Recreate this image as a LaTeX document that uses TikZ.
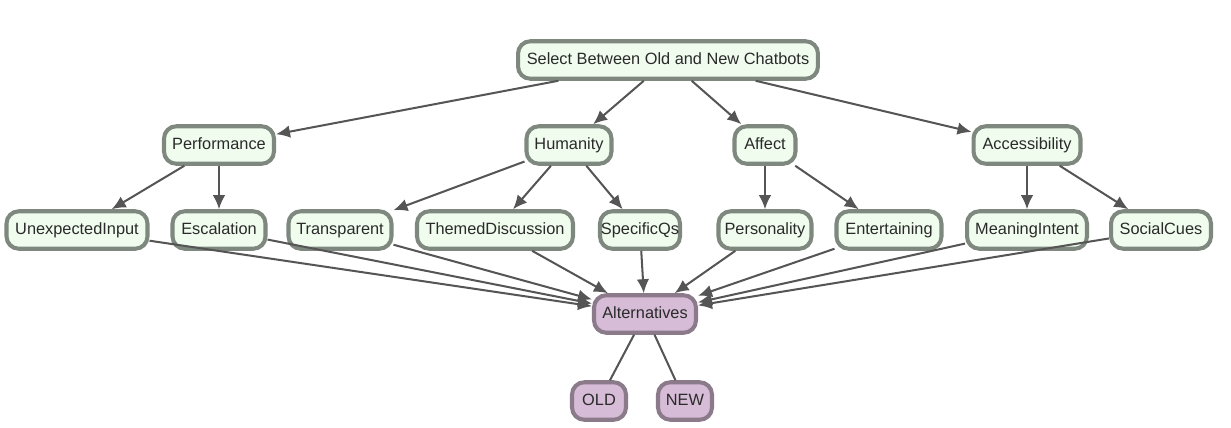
\documentclass[tikz,border=0pt]{standalone}
\usepackage{xcolor}
\usepackage{fontspec}
\setmainfont{Liberation Sans}
\usetikzlibrary{arrows.meta,positioning}
\definecolor{critfill}{HTML}{F0FCEE}
\definecolor{critedge}{HTML}{7E887E}
\definecolor{altfill}{HTML}{D6BCD6}
\definecolor{altedge}{HTML}{8A7A8A}
\definecolor{linkcol}{HTML}{555555}
\definecolor{textcol}{HTML}{2A2A2A}

\begin{document}
\begin{tikzpicture}[x=0.02cm,y=-0.02cm,
  crit/.style={draw=critedge,line width=2.3pt,rounded corners=7pt,fill=critfill,minimum height=0.75cm,inner xsep=0pt,text height=7pt,text depth=2pt,text=textcol,font=\fontsize{9.3}{11}\selectfont},
  alt/.style={crit,draw=altedge,fill=altfill},
  link/.style={draw=linkcol,line width=1.15pt,-{Latex[length=2.8mm,width=2.5mm]}},
  plain/.style={draw=linkcol,line width=1.15pt}]
  \useasboundingbox (0,0) rectangle (1231,427);
  % goal
  \node[crit,minimum width=6.0cm] (goal) at (668,60) {Select Between Old and New Chatbots};
  % criteria
  \node[crit,minimum width=2.2cm]  (perf)  at (219,145)  {Performance};
  \node[crit,minimum width=1.7cm]  (hum)   at (569,145)  {Humanity};
  \node[crit,minimum width=1.22cm] (aff)   at (765,145)  {Affect};
  \node[crit,minimum width=2.14cm] (acc)   at (1027,145) {Accessibility};
  % sub-criteria
  \node[crit,minimum width=2.82cm] (unexp) at (77,230)   {UnexpectedInput};
  \node[crit,minimum width=1.86cm] (esc)   at (219,230)  {Escalation};
  \node[crit,minimum width=2.06cm] (trans) at (340,230)  {Transparent};
  \node[crit,minimum width=3.12cm] (theme) at (495,230)  {ThemedDiscussion};
  \node[crit,minimum width=1.6cm]  (spec)  at (640,230)  {SpecificQs};
  \node[crit,minimum width=1.86cm] (pers)  at (765,230)  {Personality};
  \node[crit,minimum width=2.1cm]  (ent)   at (889,230)  {Entertaining};
  \node[crit,minimum width=2.4cm]  (mean)  at (1027,230) {MeaningIntent};
  \node[crit,minimum width=2.0cm]  (soc)   at (1161,230) {SocialCues};
  % alternatives
  \node[alt,minimum width=2.04cm] (alts) at (645,314) {Alternatives};
  \node[alt,minimum width=1.08cm] (old)  at (599,401) {OLD};
  \node[alt,minimum width=1.08cm] (new)  at (685,401) {NEW};

  \draw[link] (goal)--(perf);
  \draw[link] (goal)--(hum);
  \draw[link] (goal)--(aff);
  \draw[link] (goal)--(acc);
  \draw[link] (perf)--(unexp);
  \draw[link] (perf)--(esc);
  \draw[link] (hum)--(trans);
  \draw[link] (hum)--(theme);
  \draw[link] (hum)--(spec);
  \draw[link] (aff)--(pers);
  \draw[link] (aff)--(ent);
  \draw[link] (acc)--(mean);
  \draw[link] (acc)--(soc);
  \draw[link] (unexp)--(alts);
  \draw[link] (esc)--(alts);
  \draw[link] (trans)--(alts);
  \draw[link] (theme)--(alts);
  \draw[link] (spec)--(alts);
  \draw[link] (pers)--(alts);
  \draw[link] (ent)--(alts);
  \draw[link] (mean)--(alts);
  \draw[link] (soc)--(alts);
  \draw[plain] (alts)--(old);
  \draw[plain] (alts)--(new);
\end{tikzpicture}
\end{document}
